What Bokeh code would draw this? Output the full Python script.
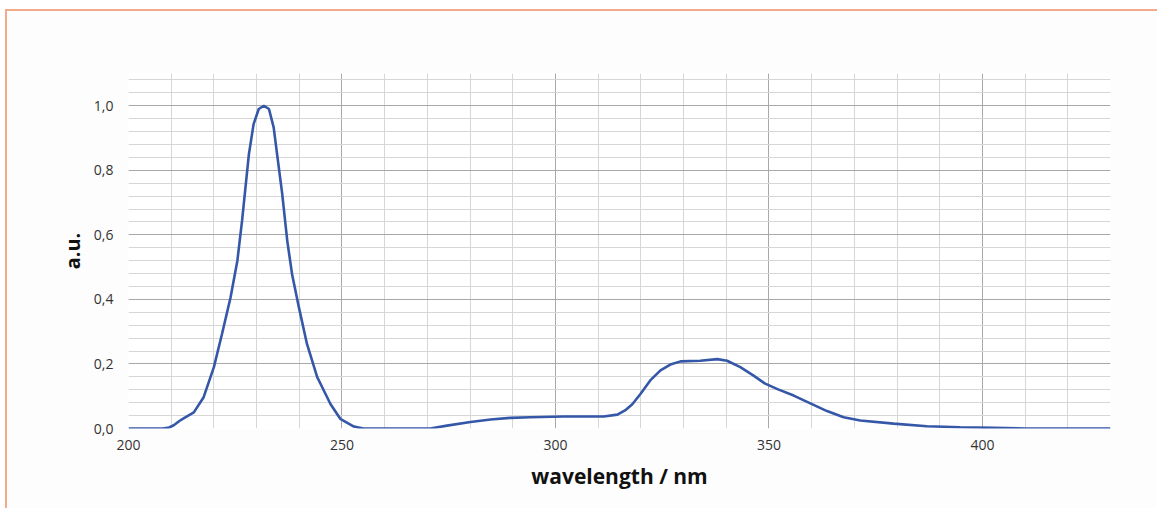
from bokeh.plotting import figure
from bokeh.models import SingleIntervalTicker, CustomJSTickFormatter, Range1d
from bokeh.embed import file_html
from bokeh.resources import INLINE

# --- data ---
wavelength = [200, 208.0, 209.5, 210.6, 212.0, 213.0, 215.3, 217.6, 220.0, 221.9,
              223.9, 225.5, 226.6, 227.4, 228.2, 229.3, 230.5, 231.7, 232.9, 234.0,
              234.8, 236.0, 237.2, 238.3, 239.9, 241.8, 244.2, 245.0, 247.3, 249.6,
              252.8, 255.0, 270.7, 274.6, 280.1, 284.8, 289.5, 294.1, 301.9, 311.3,
              314.5, 316.5, 318.0, 319.9, 322.2, 324.6, 326.9, 329.3, 333.9, 337.9,
              340.2, 343.3, 346.4, 349.0, 352.0, 355.8, 359.7, 363.6, 367.5, 371.4,
              379.2, 387.0, 394.8, 402.6, 410.0, 430.0]
intensity = [0.0, 0.0, 0.003, 0.01, 0.024, 0.032, 0.05, 0.097, 0.19, 0.293,
             0.406, 0.52, 0.644, 0.747, 0.85, 0.943, 0.99, 1.0, 0.99, 0.933,
             0.85, 0.727, 0.58, 0.479, 0.376, 0.262, 0.159, 0.138, 0.076, 0.03,
             0.006, 0.0, 0.0, 0.009, 0.02, 0.028, 0.033, 0.035, 0.037, 0.037,
             0.043, 0.058, 0.075, 0.107, 0.149, 0.18, 0.198, 0.208, 0.21, 0.215,
             0.21, 0.19, 0.164, 0.14, 0.122, 0.102, 0.078, 0.054, 0.035, 0.025,
             0.015, 0.007, 0.004, 0.002, 0.0, 0.0]

x_label = "wavelength / nm"
y_label = "a.u."

p = figure(width=1152, height=499, output_backend="svg", toolbar_location=None,
           x_range=Range1d(200, 430), y_range=Range1d(0, 1.1),
           min_border_left=121, min_border_right=49, min_border_top=62,
           min_border_bottom=82)
p.margin = (9, 0, 0, 5)
p.styles = {"border-top": "2px solid #f5a98b", "border-left": "2px solid #f5a98b"}
p.outline_line_color = None
p.background_fill_color = "#ffffff"
p.border_fill_color = "#fdfdfd"

p.xaxis.ticker = SingleIntervalTicker(interval=50, num_minor_ticks=5)
p.yaxis.ticker = SingleIntervalTicker(interval=0.2, num_minor_ticks=5)
p.yaxis.formatter = CustomJSTickFormatter(code="return tick.toFixed(1).replace('.', ',');")
p.xaxis.formatter = CustomJSTickFormatter(code="return tick.toFixed(0);")

for ax in (p.xaxis, p.yaxis):
    ax.axis_line_color = None
    ax.major_tick_line_color = None
    ax.minor_tick_line_color = None
    ax.major_tick_out = 0
    ax.major_tick_in = 0
    ax.minor_tick_out = 0
    ax.minor_tick_in = 0
    ax.major_label_text_font = "Open Sans"
    ax.major_label_text_font_size = "14px"
    ax.major_label_text_color = "#333333"
    ax.axis_label_text_font = "Open Sans"
    ax.axis_label_text_font_style = "bold"
    ax.axis_label_text_color = "#111111"

p.xaxis.axis_label = x_label
p.yaxis.axis_label = y_label
p.xaxis.major_label_standoff = 11
p.yaxis.major_label_standoff = 15
p.xaxis.axis_label_standoff = 9
p.yaxis.axis_label_standoff = 5
p.xaxis.axis_label_text_font_size = "21px"
p.yaxis.axis_label_text_font_size = "20px"

for g in (p.xgrid, p.ygrid):
    g.grid_line_color = "#a8a8a8"
    g.grid_line_width = 1
    g.minor_grid_line_color = "#d6d6d6"
    g.minor_grid_line_width = 1

p.line(wavelength, intensity, line_color="#3557a8", line_width=2.6)

open("out.html", "w").write(file_html(p, INLINE))
